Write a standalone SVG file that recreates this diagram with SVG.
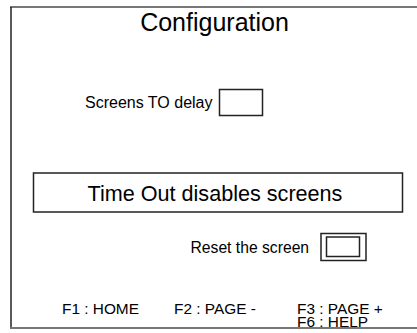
<svg xmlns="http://www.w3.org/2000/svg" width="417" height="333" viewBox="0 0 417 333">
<style>
text{font-family:"Liberation Sans",Arial,sans-serif;fill:#000}
.box{fill:none;stroke:#222;stroke-width:1.5}
.frame{stroke:#777;stroke-width:2}
</style>
<rect width="417" height="333" fill="#fff"/>
<g id="frame">
<line class="frame" x1="10" y1="7" x2="417" y2="7"/>
<line x1="11" y1="7" x2="11" y2="328" stroke="#222" stroke-width="1.5"/>
<line class="frame" x1="10" y1="328" x2="417" y2="328"/>
</g>
<g id="title"><text x="214.5" y="31" font-size="25" text-anchor="middle">Configuration</text></g>
<g id="delay">
<text x="85" y="107.5" font-size="16">Screens TO delay</text>
<rect class="box" x="219.5" y="89.5" width="43" height="26"/>
</g>
<g id="banner">
<rect class="box" x="33.5" y="173" width="369" height="39"/>
<text x="215" y="201" font-size="21.6" text-anchor="middle">Time Out disables screens</text>
</g>
<g id="reset">
<text x="190.5" y="252.5" font-size="15.7">Reset the screen</text>
<rect class="box" x="321" y="233.5" width="45" height="27"/>
<rect class="box" x="326.5" y="237" width="33" height="19.5"/>
</g>
<g id="keys" font-size="15.4">
<text x="62" y="314" font-size="15.4">F1 : HOME</text>
<text x="174" y="314" font-size="15.4">F2 : PAGE -</text>
<text x="297" y="313.5" font-size="15.4">F3 : PAGE +</text>
<text x="297" y="326.5" font-size="15.4">F6 : HELP</text>
</g>
<g id="connectors"/>
</svg>
